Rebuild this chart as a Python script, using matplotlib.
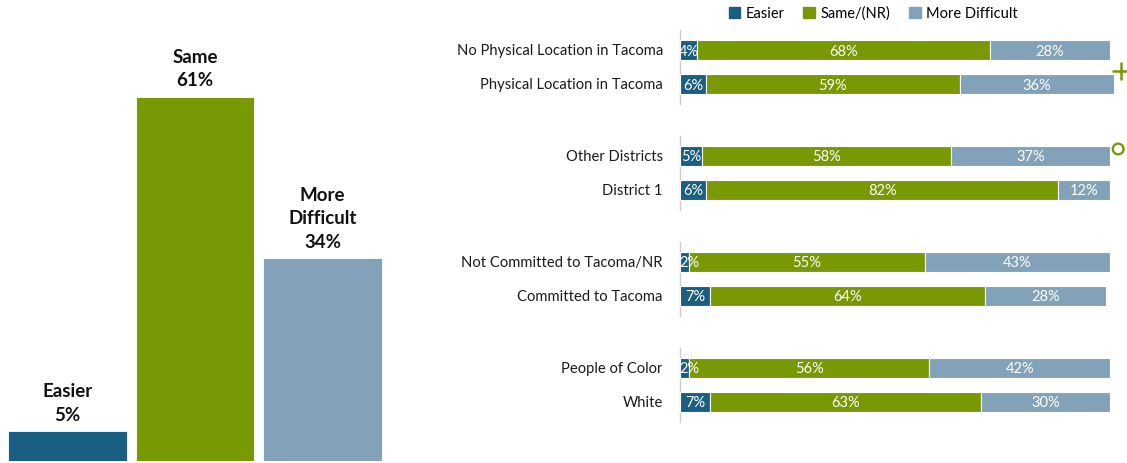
import matplotlib
matplotlib.use('Agg')
import matplotlib.pyplot as plt
import numpy as np

# Overall result
overall_labels = ["Easier", "Same", "More\nDifficult"]
overall_values = [5, 61, 34]

# Breakdown by subgroup (listed top to bottom, in pairs)
groups = [
    ["No Physical Location in Tacoma", "Physical Location in Tacoma"],
    ["Other Districts", "District 1"],
    ["Not Committed to Tacoma/NR", "Committed to Tacoma"],
    ["People of Color", "White"],
]
easier = [4, 6, 5, 6, 2, 7, 2, 7]
same = [68, 59, 58, 82, 55, 64, 56, 63]
harder = [28, 36, 37, 12, 43, 28, 42, 30]
series_names = ["Easier", "Same/(NR)", "More Difficult"]
# significance markers shown to the right of a group
markers = {0: "+", 1: "o"}

colors = ["#1A5F82", "#789904", "#81A2B8"]
FONT = "Lato"

W, H = 1127, 464
fig = plt.figure(figsize=(W / 100, H / 100), dpi=100)

# ---- left: overall column chart ----
axl = fig.add_axes([0.0, 2 / H, 386.3 / W, 460 / H])
x = np.arange(len(overall_values))
axl.bar(x, overall_values, width=0.93, color=colors, edgecolor="white", linewidth=0.6)
for xi, lab, v in zip(x, overall_labels, overall_values):
    axl.text(xi, v + 1.4, f"{lab}\n{v}%", ha="center", va="bottom", fontsize=13.5,
             fontweight="bold", family=FONT, color="#111111", linespacing=1.45)
axl.set_xlim(-0.53, 2.5)
axl.set_ylim(0, 77)
axl.axis("off")

# ---- right: stacked 100% bars ----
axr = fig.add_axes([680 / W, 0, 430 / W, 1])
axr.set_xlim(0, 100)
axr.set_ylim(H, 0)
axr.axis("off")

labels = [name for g in groups for name in g]
ypos = []
for gi, g in enumerate(groups):
    for ri in range(len(g)):
        ypos.append(51 + gi * 106 + ri * 34)
ypos = np.array(ypos)
bar_h = 20

left = np.zeros(len(labels))
for vals, col in zip([easier, same, harder], colors):
    vals = np.array(vals, dtype=float)
    axr.barh(ypos, vals, left=left, height=bar_h, color=col, edgecolor="white",
             linewidth=0.8, clip_on=False)
    for y, l, v in zip(ypos, left, vals):
        cx = max(l + v / 2, l + 2.1)
        axr.text(cx, y + 0.5, f"{int(v)}%", ha="center", va="center", color="white",
                 fontsize=10.5, family=FONT)
    left += vals

for y, lab in zip(ypos, labels):
    axr.text(-4, y + 0.5, lab, ha="right", va="center", fontsize=10.6,
             family=FONT, color="#1a1a1a", clip_on=False)

# axis line per group
idx = 0
for gi, g in enumerate(groups):
    top = ypos[idx] - 20
    bot = ypos[idx + len(g) - 1] + 20
    axr.plot([0, 0], [top, bot], color="#cccccc", lw=1, zorder=0, clip_on=False)
    idx += len(g)

# significance markers to the right of the bars
for gi, m in markers.items():
    first = sum(len(g) for g in groups[:gi])
    if m == "+":
        axr.scatter([102.6], [ypos[first] + 21], marker="+", s=170,
                    color=colors[1], linewidth=1.8, clip_on=False)
    else:
        axr.scatter([101.9], [ypos[first] - 7], s=60, facecolor="none",
                    edgecolor=colors[1], linewidth=1.7, clip_on=False)

# legend
handles = [plt.Rectangle((0, 0), 1, 1, color=c) for c in colors]
fig.legend(handles, series_names, loc="center", bbox_to_anchor=(873 / W, 1 - 14 / H),
           ncol=3, frameon=False, handlelength=0.8, handleheight=0.8,
           handletextpad=0.35, columnspacing=1.3, prop={"family": FONT, "size": 10.5})

fig.savefig("out.png", dpi=100)
